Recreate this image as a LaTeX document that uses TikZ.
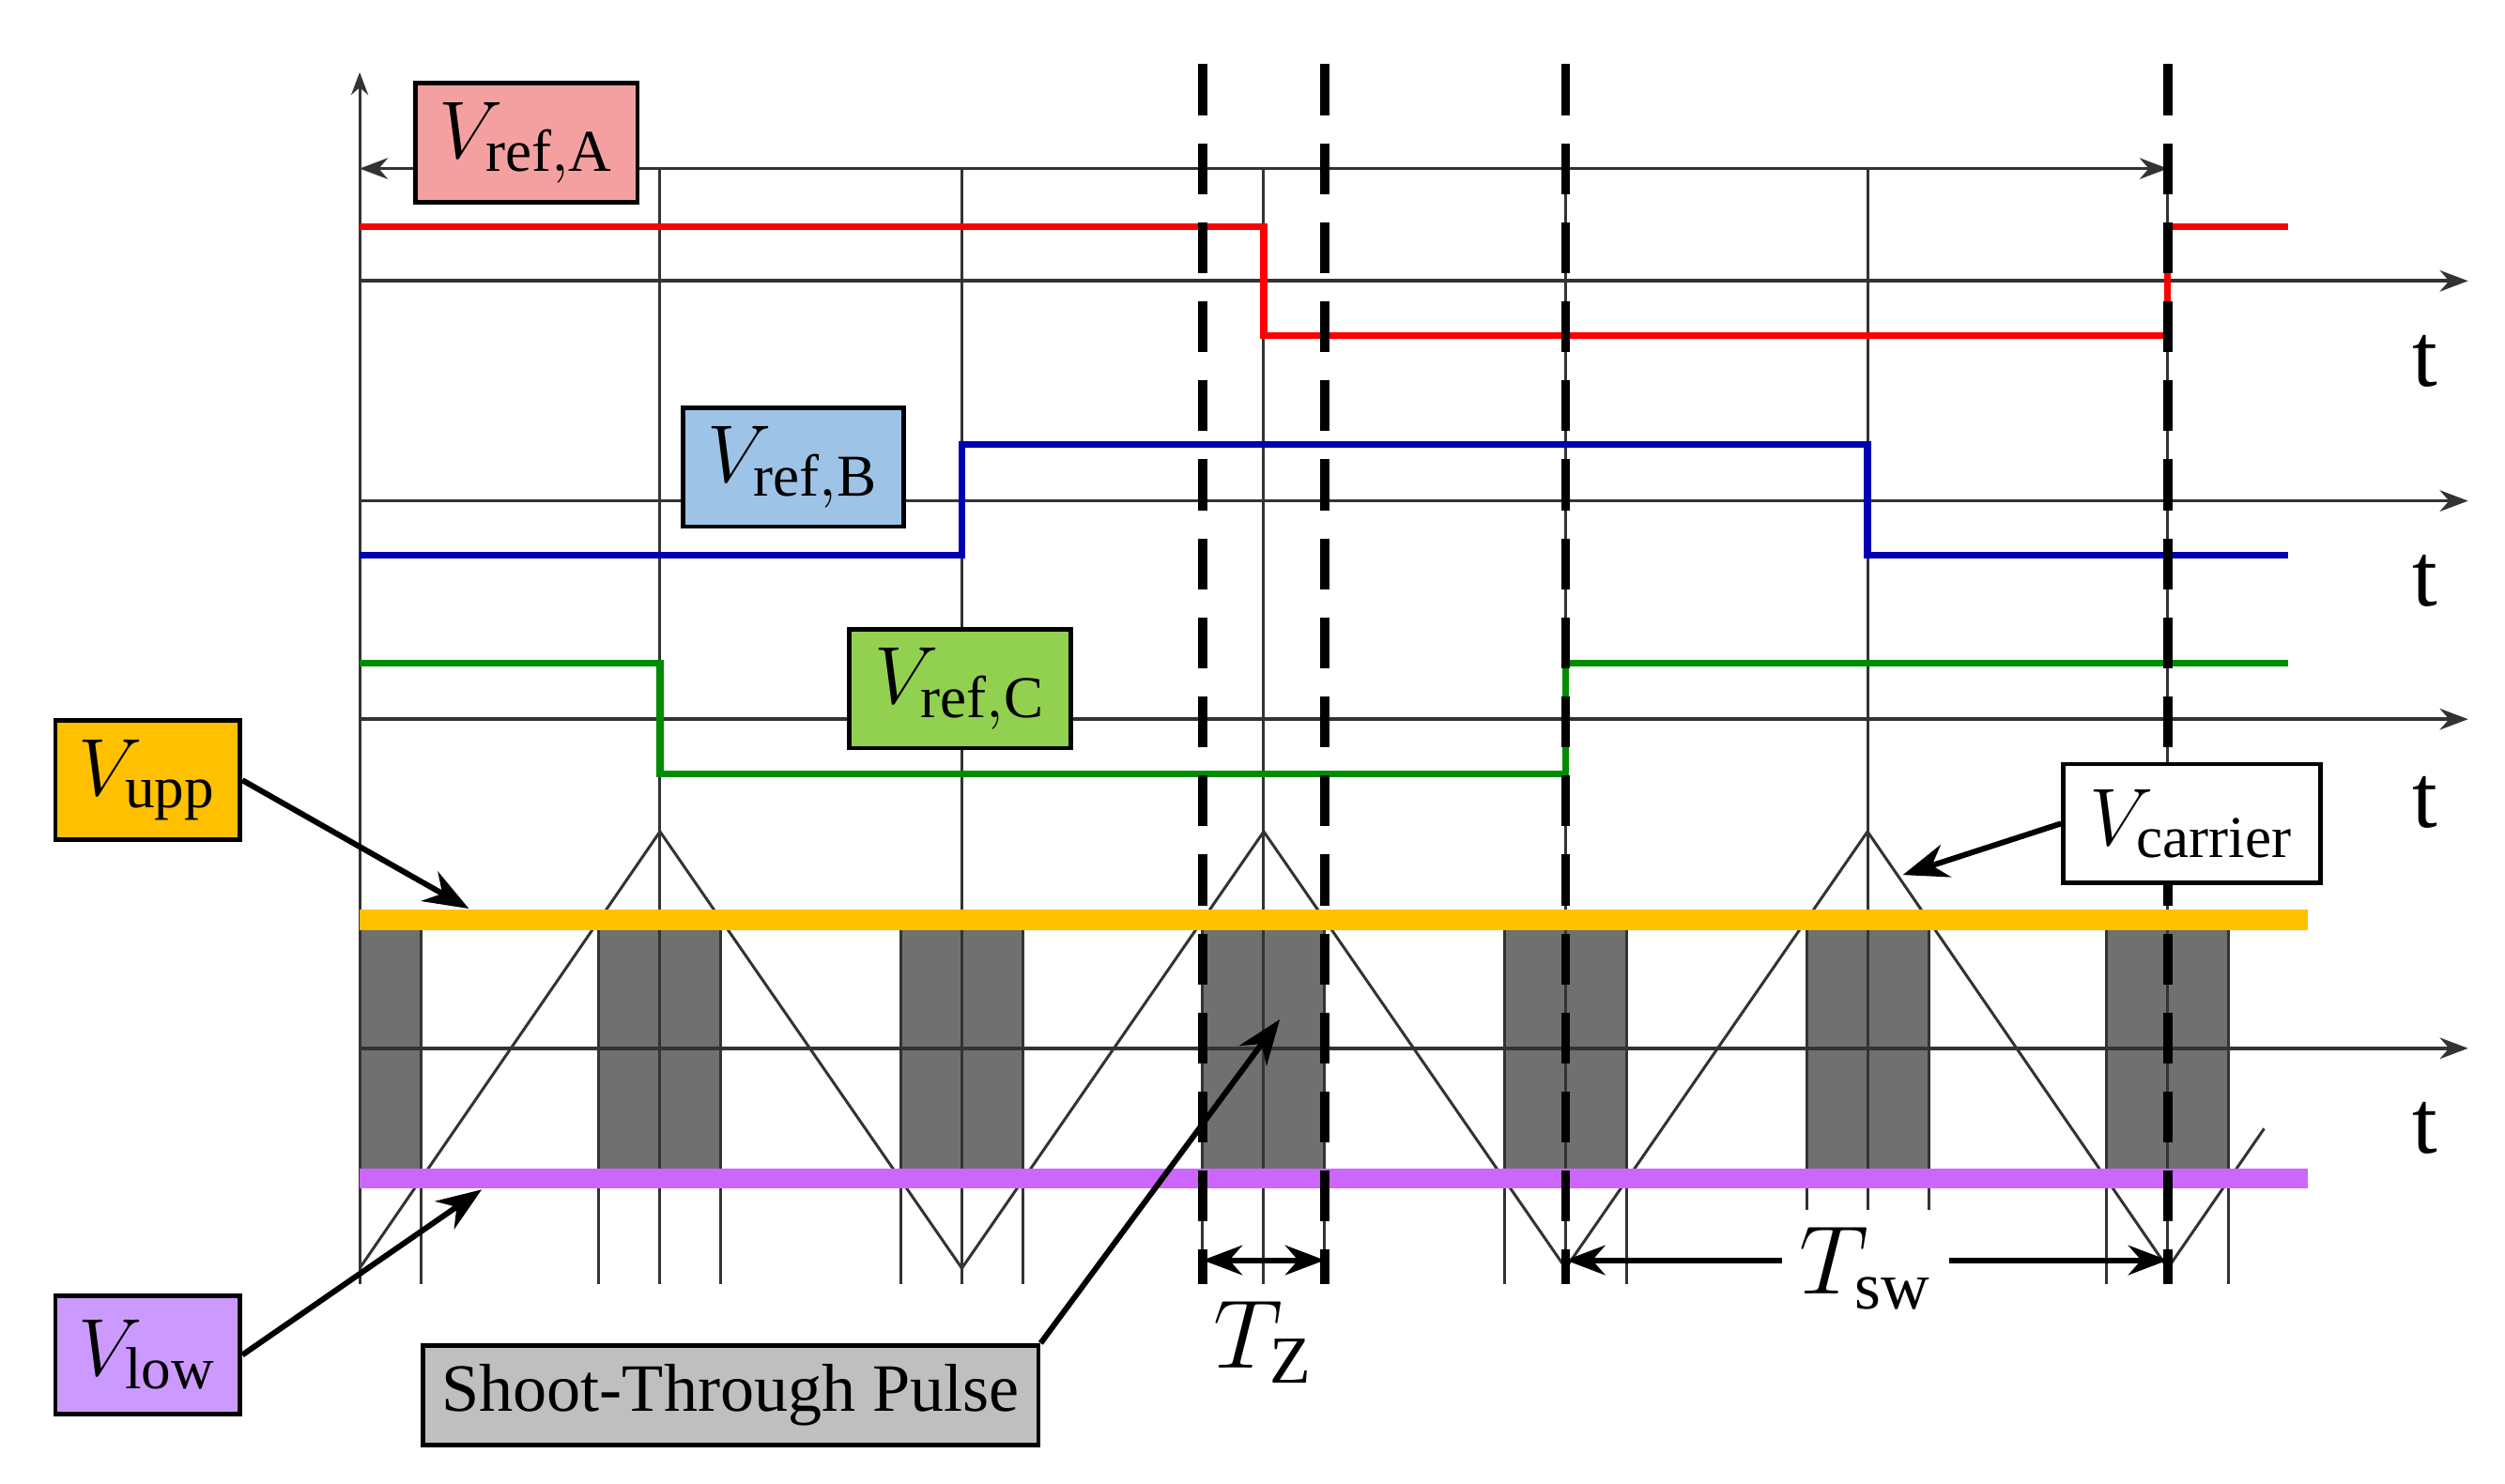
\documentclass[tikz,border=0pt]{standalone}
\usepackage{fontspec}
\setmainfont{Liberation Serif}
\usetikzlibrary{arrows.meta}
\begin{document}
\begin{tikzpicture}[x=0.01cm,y=-0.01cm,
  grid line/.style={line width=0.5pt,black!80},
  ax/.style={line width=0.6pt,black!80,-{Stealth[length=5pt]}},
  thick dash/.style={line width=1.6pt,dash pattern=on 9pt off 5pt},
  lbl/.style={draw=black,line width=0.8pt,inner sep=0pt,minimum height=0.74cm,font=\fontsize{15}{17}\selectfont},
  arr/.style={line width=1pt,-{Stealth[length=8pt]}},
  tt/.style={font=\fontsize{16}{18}\selectfont}]
\useasboundingbox (0,0) rectangle (1560,924);
% shaded boxes
\foreach \a/\b in {224/262,373/449,561/637,749/825,937/1013,1125/1201,1312/1388}{
  \fill[black!56] (\a,578) rectangle (\b,730);
  \draw[grid line] (\a,578) -- (\a,800); \draw[grid line] (\b,578) -- (\b,800);}
% vertical grid
\draw[grid line,-{Stealth[length=4pt]}] (224,800) -- (224,45);
\foreach \x in {411,599,787,975,1163,1350} \draw[grid line] (\x,105) -- (\x,800);
% top double arrow
\coordinate (ta) at (224,105); \coordinate (tb) at (1350,105);
\draw[grid line,{Stealth[length=5pt]}-{Stealth[length=5pt]}] (ta) -- (tb);
% axes
\foreach \y/\ty in {175/225,312/362,448/500,653/703}{
  \coordinate (s\y) at (224,\y); \coordinate (e\y) at (1537,\y);
  \draw[ax] (s\y) -- (e\y);
  \node[tt] at (1510,\ty) {t};}
% signals
\draw[red,line width=1.2pt] (224,141) -- (787,141) -- (787,209) -- (1350,209) -- (1350,141) -- (1425,141);
\draw[blue!70!black,line width=1.2pt] (224,346) -- (599,346) -- (599,277) -- (1163,277) -- (1163,346) -- (1425,346);
\draw[green!55!black,line width=1.2pt] (224,413) -- (411,413) -- (411,482) -- (975,482) -- (975,413) -- (1425,413);
% carrier
\draw[grid line] (224,790) -- (411,518) -- (599,790) -- (787,518) -- (975,790) -- (1163,518) -- (1350,790) -- (1410,703);
% upper / lower
\draw[color={rgb,255:red,255;green,192;blue,0},line width=3.5pt] (224,573) -- (1437,573);
\draw[color={rgb,255:red,204;green,102;blue,255},line width=3.5pt] (224,734) -- (1437,734);
% dashed
\foreach \x in {749,825,975,1350} \draw[thick dash] (\x,40) -- (\x,800);
% TZ, Tsw
\coordinate (z1) at (749,785); \coordinate (z2) at (825,785);
\draw[line width=1pt,{Stealth[length=7pt]}-{Stealth[length=7pt]}] (z1) -- (z2);
\node[font=\fontsize{17}{19}\selectfont] (tz) at (787,836) {$T_{\mathrm{Z}}$};
\coordinate (w1) at (975,785); \coordinate (w2) at (1350,785);
\draw[line width=1pt,{Stealth[length=7pt]}-{Stealth[length=7pt]}] (w1) -- (w2);
\node[fill=white,inner sep=3pt,font=\fontsize{17}{19}\selectfont] (tsw) at (1162,790) {$T_{\mathrm{sw}}$};
% labels
\node[lbl,fill={rgb,255:red,244;green,160;blue,160},minimum width=1.38cm] (ra) at (328,89) {$V_{\mathrm{ref,A}}$};
\node[lbl,fill={rgb,255:red,157;green,195;blue,230},minimum width=1.37cm] (rb) at (494,291) {$V_{\mathrm{ref,B}}$};
\node[lbl,fill={rgb,255:red,146;green,208;blue,80},minimum width=1.38cm] (rc) at (598,429) {$V_{\mathrm{ref,C}}$};
\node[lbl,fill={rgb,255:red,255;green,192;blue,0},minimum width=1.15cm] (vu) at (92,486) {$V_{\mathrm{upp}}$};
\node[lbl,fill={rgb,255:red,204;green,153;blue,255},minimum width=1.15cm] (vl) at (92,844) {$V_{\mathrm{low}}$};
\node[lbl,fill=white,minimum width=1.6cm] (vc) at (1365,513) {$V_{\mathrm{carrier}}$};
\node[draw=black,line width=0.8pt,fill=black!25,minimum width=3.65cm,minimum height=0.58cm,font=\fontsize{12}{14}\selectfont] (sp) at (455,869) {Shoot-Through Pulse};
\coordinate (pu) at (292,566); \coordinate (pl) at (300,741);
\coordinate (pc) at (1185,545); \coordinate (ps) at (797,635);
\draw[arr] (vu.east) -- (pu);
\draw[arr] (vl.east) -- (pl);
\draw[arr] (vc.west) -- (pc);
\draw[arr] (sp.north east) -- (ps);
\end{tikzpicture}
\end{document}
